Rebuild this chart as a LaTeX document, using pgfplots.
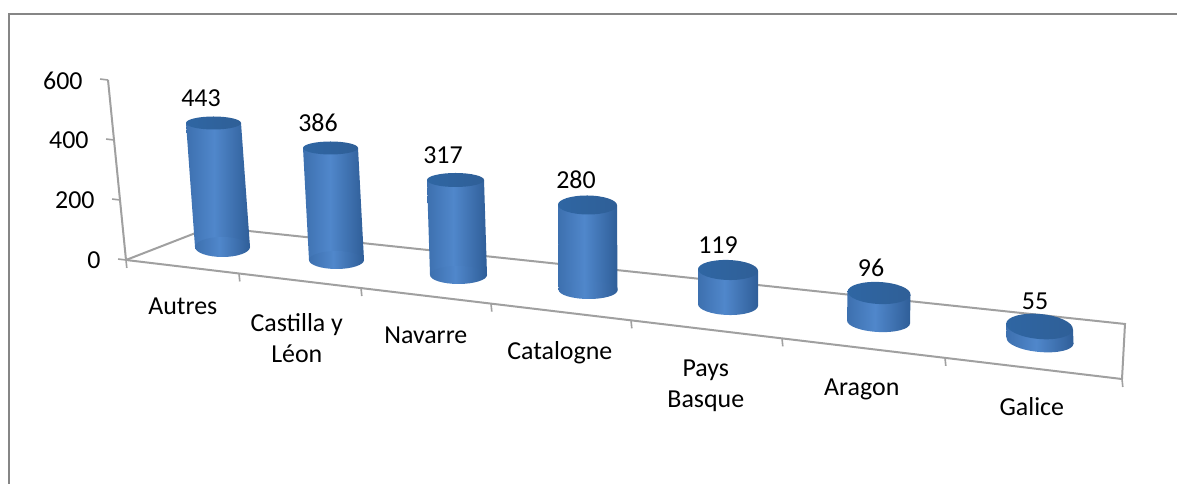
\documentclass[border=0pt]{standalone}
\usepackage{pgfplots}
\pgfplotsset{compat=1.18}
\usepackage{fontspec}
\setmainfont{Carlito}
\definecolor{gridg}{HTML}{A0A0A0}
\definecolor{frameg}{HTML}{868686}
\definecolor{cylL}{HTML}{3D70AF}
\definecolor{cylM}{HTML}{5087CB}
\definecolor{cylR}{HTML}{2F5E98}
\definecolor{topL}{HTML}{2F66A3}
\definecolor{topR}{HTML}{2F5F97}
\pgfdeclarehorizontalshading{cylshade}{100bp}{color(0bp)=(cylL); color(25bp)=(cylL); color(47bp)=(cylM); color(75bp)=(cylR); color(100bp)=(cylR)}
\pgfdeclarehorizontalshading{cyltopshade}{100bp}{color(0bp)=(topL); color(25bp)=(topL); color(75bp)=(topR); color(100bp)=(topR)}
\pgfdeclareplotmark{cylbase}{\pgftransformrotate{\cyltilt}\pgfpathellipse{\pgfpointorigin}{\pgfpoint{\cylr bp}{0pt}}{\pgfpoint{0pt}{\cylb bp}}\pgfshadepath{cylshade}{0}\pgfusepath{discard}}
\pgfdeclareplotmark{cyltop}{\pgftransformrotate{\cyltilt}\pgfpathellipse{\pgfpointorigin}{\pgfpoint{\cylr bp}{0pt}}{\pgfpoint{0pt}{\cylt bp}}\pgfshadepath{cyltopshade}{0}\pgfusepath{discard}}
\pgfplotsset{/pgf/number format/assume math mode=true}
% \cylt = minor radius of the top ellipse
% xb, yb, xt, yt, value, radius, minor radius of base, tilt slope, label dx
\newcommand{\cyl}[9]{%
  \pgfmathsetmacro{\vx}{(#3-#1)/#5}%
  \pgfmathsetmacro{\vy}{(#2-#4)/#5}%
  \pgfmathsetmacro{\oy}{484-(#2-#8*#1)}%
  \pgfmathsetmacro{\tilt}{-atan(#8)}%
  \pgfmathsetmacro{\xl}{#1-#6}%
  \pgfmathsetmacro{\xr}{#1+#6}%
  \gdef\cylr{#6}\gdef\cylb{#7}\xdef\cyltilt{\tilt}%
  \begin{axis}[hide axis, clip=false, anchor=origin, at={(0bp,\oy bp)},
    x={(1bp,-#8 bp)}, y={(\vx bp,\vy bp)},
    xmin=0, xmax=1177, ymin=0, ymax=600]
    \addplot[only marks, mark=cylbase] coordinates {(#1,0)};
    \addplot[shade, shading=cylshade, draw=none, mark=none] coordinates {(\xl,0) (\xl,#5) (\xr,#5) (\xr,0)} --cycle;
    \addplot[only marks, mark=cyltop, point meta=y, nodes near coords,
      every node near coord/.append style={anchor=center, inner sep=0pt, xshift=#9 bp, yshift=25bp, font=\fontsize{26}{30}\selectfont, text=black}] coordinates {(#1,#5)};
  \end{axis}}
\begin{document}
\begin{tikzpicture}[x=1bp,y=1bp]
\path[use as bounding box] (0,0) rectangle (1177,484);
\draw[frameg, line width=2bp] (8.5,-5) -- (8.5,470) -- (1182,470);
\begin{axis}[clip=false, anchor=origin, at={(126bp,224bp)},
  x={(1bp,-0.1195bp)}, y={(-0.03bp,0.3bp)},
  xmin=0, xmax=996, ymin=0, ymax=600,
  axis lines=left, axis line style={-, gridg, line width=2bp},
  tick align=outside, major tick length=8bp, minor tick length=8bp,
  ytick={0,200,400,600},
  y tick style={gridg, line width=1.6bp},
  xtick={56,170,299,433,579,735,905},
  xticklabels={Autres,{\raisebox{-4bp}{\begin{tabular}[t]{@{}c@{}}Castilla y\\Léon\end{tabular}}},Navarre,Catalogne,{\begin{tabular}[t]{@{}c@{}}Pays\\Basque\end{tabular}},Aragon,Galice},
  x tick style={draw=none},
  minor xtick={0,113,235,365,505,656,819,996},
  minor x tick style={draw=gridg, line width=1.6bp},
  ticklabel style={font=\fontsize{26}{31}\selectfont},
  xticklabel style={anchor=base, yshift=-39.5bp},
  yticklabel style={anchor=east, xshift=-14bp, yshift=-1.5bp},
  scaled ticks=false]
  \addplot[gridg, line width=2bp, mark=none] coordinates {(0,0) (89.4,145.6) (1004.6,186.9) (996,0)};
\end{axis}
\def\cylt{6.5}\cyl{222.5}{247}{213.5}{123}{443}{27.5}{10}{0}{-12.5}
\def\cylt{6.5}\cyl{336.5}{260}{330.5}{148}{386}{27.5}{9}{0}{-12.5}
\def\cylt{7}\cyl{458.5}{275}{455.5}{180}{317}{28.5}{9}{0}{-12.5}
\def\cylt{9.5}\cyl{588}{290}{587.5}{205}{280}{29.5}{9}{0.01}{-11.5}
\def\cylt{10}\cyl{728}{305}{728}{270}{119}{30}{10}{0.03}{-10}
\def\cylt{11}\cyl{878.5}{322}{879}{293}{96}{31.5}{10}{0.05}{-8}
\def\cylt{12.5}\cyl{1040}{341}{1039.5}{326.5}{55}{33.5}{11}{0.09}{-4.5}
\end{tikzpicture}
\end{document}
